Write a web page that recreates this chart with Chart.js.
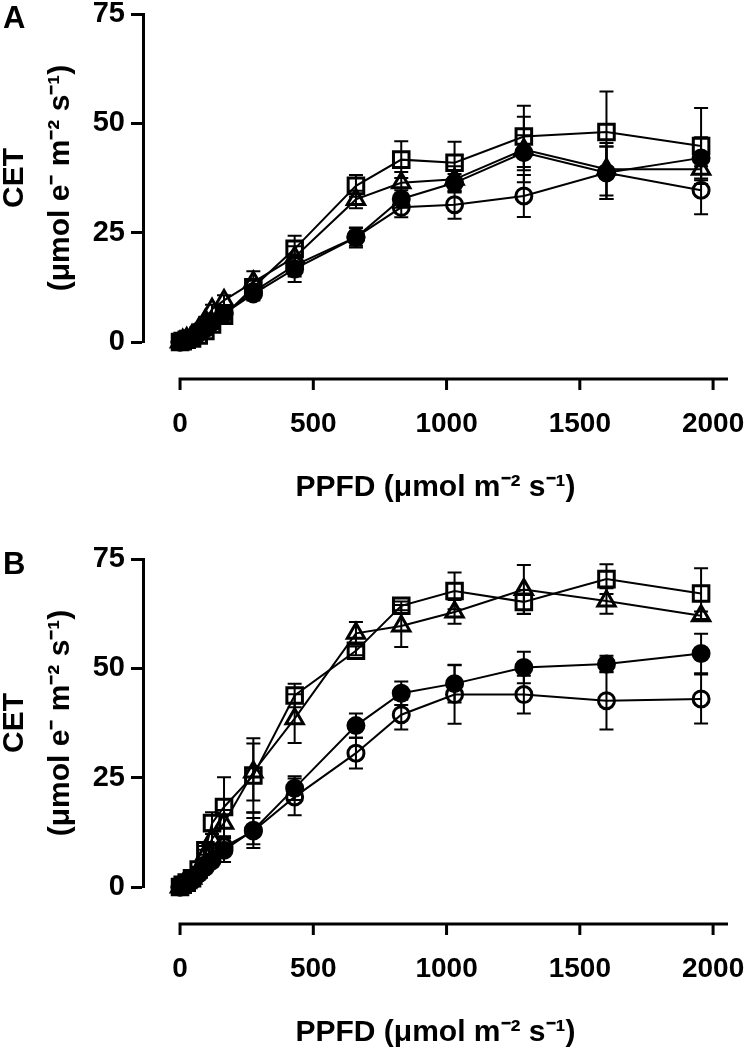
<!DOCTYPE html>
<html>
<head>
<meta charset="utf-8">
<script src="https://cdn.jsdelivr.net/npm/chart.js@4.4.1/dist/chart.umd.min.js"></script>
<style>
  body { margin: 0; background: #fff; }
  #page { position: relative; width: 749px; height: 1053px; overflow: hidden; }
  canvas { position: absolute; left: 0; }
  .panel { position: absolute; left: 3px; font: bold 31px "Liberation Sans", Arial, sans-serif; line-height: 31px; color: #000; }
</style>
</head>
<body>
<div id="page">
  <canvas id="chartA" width="749" height="508" style="top:0px"></canvas>
  <canvas id="chartB" width="749" height="508" style="top:545px"></canvas>
  <div class="panel" style="top:2px">A</div>
  <div class="panel" style="top:548px">B</div>
</div>
<script>
// PPFD levels (x), shared by both panels
var ppfd = [0, 10, 25, 45, 70, 95, 120, 165, 275, 430, 660, 830, 1030, 1290, 1600, 1955];
var xTicks = [0, 500, 1000, 1500, 2000];
var yTicks = [0, 25, 50, 75];

// panel A
var a_filled = [0, 0.3, 0.6, 1.0, 2.5, 3.5, 4.5, 6.5, 11.0, 16.7, 23.9, 32.7, 36.4, 43.3, 38.7, 42.1];
var a_filled_err = [0, 0.2, 0.3, 0.4, 0.6, 0.8, 1.0, 1.2, 1.5, 3.0, 2.3, 2.0, 2.0, 4.0, 6.0, 4.7];
var a_open = [0, 0.3, 0.5, 1.0, 2.0, 3.0, 4.5, 6.5, 11.5, 17.5, 24.0, 30.8, 31.4, 33.4, 38.7, 34.7];
var a_open_err = [0, 0.2, 0.3, 0.4, 0.6, 0.8, 1.0, 1.2, 1.5, 2.5, 2.0, 2.3, 3.2, 4.8, 6.0, 5.5];
var a_square = [0, 0.2, 0.5, 0.8, 1.5, 2.5, 4.0, 6.0, 12.5, 21.3, 35.7, 41.7, 41.0, 47.0, 48.0, 44.8];
var a_square_err = [0, 0.2, 0.3, 0.4, 0.6, 0.8, 1.0, 1.5, 1.5, 3.0, 2.5, 4.2, 4.8, 7.0, 9.3, 8.7];
var a_triangle = [0, 0.4, 0.8, 1.5, 3.0, 5.0, 7.5, 9.5, 13.7, 19.4, 32.6, 36.4, 37.2, 44.0, 39.5, 39.5];
var a_triangle_err = [0, 0.2, 0.3, 0.4, 0.6, 0.8, 1.0, 1.2, 2.5, 2.5, 2.0, 2.5, 3.0, 7.5, 6.0, 2.5];

// panel B
var b_filled = [0, 0.4, 0.8, 1.5, 3.0, 4.5, 6.0, 8.4, 13.0, 22.6, 36.9, 44.3, 46.5, 50.2, 51.0, 53.4];
var b_filled_err = [0, 0.2, 0.3, 0.4, 0.5, 0.7, 1.0, 2.7, 4.1, 2.7, 2.8, 2.7, 4.3, 3.6, 1.9, 4.5];
var b_open = [0, 0.4, 0.8, 1.5, 3.0, 5.0, 8.0, 9.2, 12.8, 20.6, 30.6, 39.4, 44.0, 44.0, 42.6, 43.0];
var b_open_err = [0, 0.2, 0.3, 0.4, 0.5, 0.7, 1.0, 2.0, 3.0, 4.2, 3.5, 3.4, 6.7, 4.3, 6.6, 5.6];
var b_square = [0, 0.5, 1.0, 2.0, 4.0, 8.4, 14.6, 18.3, 25.5, 43.8, 54.0, 64.3, 67.7, 65.2, 70.4, 67.1];
var b_square_err = [0, 0.2, 0.3, 0.4, 0.6, 1.0, 2.5, 6.8, 8.5, 2.7, 1.0, 1.0, 4.2, 2.7, 3.4, 5.8];
var b_triangle = [0, 0.5, 1.0, 2.0, 4.0, 7.5, 11.0, 14.6, 26.3, 38.5, 58.0, 59.7, 62.9, 68.0, 65.4, 62.0];
var b_triangle_err = [0, 0.2, 0.3, 0.4, 0.6, 1.0, 2.0, 3.0, 6.5, 5.6, 2.6, 4.8, 2.7, 5.6, 2.9, 1.0];

var FONT = '"Liberation Sans", Arial, sans-serif';

function series(label, vals, errs, style, radius, filled) {
  return {
    label: label,
    data: ppfd.map(function(x, i) { return {x: x, y: vals[i]}; }),
    errors: errs,
    pointStyle: style,
    pointRadius: radius,
    pointBorderWidth: 3,
    pointBorderColor: '#000',
    pointBackgroundColor: filled ? '#000' : 'rgba(0,0,0,0)',
    borderColor: '#000',
    borderWidth: 2,
    showLine: true,
    tension: 0,
    clip: false
  };
}

// vertical error bars with caps, drawn behind the markers
var errorBars = {
  id: 'errorBars',
  beforeDatasetsDraw: function(chart) {
    var ctx = chart.ctx;
    var xs = chart.scales.x, ys = chart.scales.y;
    ctx.save();
    ctx.strokeStyle = '#000';
    ctx.lineWidth = 2;
    chart.data.datasets.forEach(function(ds) {
      ds.data.forEach(function(p, i) {
        var e = ds.errors[i];
        if (!e) return;
        var px = xs.getPixelForValue(p.x);
        var top = ys.getPixelForValue(p.y + e);
        var bot = ys.getPixelForValue(p.y - e);
        ctx.beginPath();
        ctx.moveTo(px, top); ctx.lineTo(px, bot);
        ctx.moveTo(px - 7, top); ctx.lineTo(px + 7, top);
        ctx.moveTo(px - 7, bot); ctx.lineTo(px + 7, bot);
        ctx.stroke();
      });
    });
    ctx.restore();
  }
};

// detached x axis line, set below the y = 0 level
var offsetXAxis = {
  id: 'offsetXAxis',
  afterDraw: function(chart) {
    var ctx = chart.ctx;
    var xs = chart.scales.x;
    var yLine = chart.chartArea.bottom + 37;
    ctx.save();
    ctx.strokeStyle = '#000';
    ctx.lineWidth = 3;
    ctx.beginPath();
    ctx.moveTo(xs.getPixelForValue(0) - 1.5, yLine);
    ctx.lineTo(chart.chartArea.right, yLine);
    xTicks.forEach(function(v) {
      var px = xs.getPixelForValue(v);
      ctx.moveTo(px, yLine);
      ctx.lineTo(px, yLine + 11);
    });
    ctx.stroke();
    ctx.restore();
  }
};

function makeChart(id, datasets) {
  return new Chart(document.getElementById(id), {
    type: 'scatter',
    data: { datasets: datasets },
    plugins: [errorBars, offsetXAxis],
    options: {
      responsive: false,
      animation: false,
      events: [],
      layout: { padding: { top: 12, right: 21, left: 0, bottom: 0 } },
      plugins: { legend: { display: false }, tooltip: { enabled: false } },
      scales: {
        x: {
          type: 'linear',
          min: -139,
          max: 2056,
          afterBuildTicks: function(s) { s.ticks = xTicks.map(function(v) { return {value: v}; }); },
          afterFit: function(s) { s.height = 166; s.paddingLeft = 0; s.paddingRight = 0; },
          grid: { display: false, drawTicks: false, tickLength: 0 },
          border: { display: false },
          ticks: {
            color: '#000', padding: 65, maxRotation: 0,
            callback: function(v) { return String(v); },
            font: { family: FONT, size: 28, weight: 'bold' }
          },
          title: {
            display: true,
            text: 'PPFD (\u03bcmol m\u207b\u00b2 s\u207b\u00b9)',
            color: '#000',
            padding: { bottom: 2, top: 0 },
            font: { family: FONT, size: 30, weight: 'bold' }
          }
        },
        y: {
          type: 'linear',
          min: 0,
          max: 75,
          afterBuildTicks: function(s) { s.ticks = yTicks.map(function(v) { return {value: v}; }); },
          afterFit: function(s) { s.width = 143; s.paddingTop = 0; s.paddingBottom = 0; },
          grid: { display: true, drawOnChartArea: false, drawTicks: true, tickLength: 12, tickWidth: 3, color: '#000' },
          border: { display: true, width: 3, color: '#000' },
          ticks: {
            color: '#000', padding: 6,
            callback: function(v) { return String(v); },
            font: { family: FONT, size: 29, weight: 'bold' }
          },
          title: {
            display: true,
            text: ['CET', '(\u03bcmol e\u207b m\u207b\u00b2 s\u207b\u00b9)'],
            color: '#000',
            padding: { top: -8, bottom: 0 },
            font: { family: FONT, size: 30, weight: 'bold', lineHeight: '46px' }
          }
        }
      }
    }
  });
}

makeChart('chartA', [
  series('filled circle', a_filled, a_filled_err, 'circle', 8, true),
  series('open circle', a_open, a_open_err, 'circle', 8, false),
  series('open square', a_square, a_square_err, 'rect', 11, false),
  series('open triangle', a_triangle, a_triangle_err, 'triangle', 10, false)
]);

makeChart('chartB', [
  series('filled circle', b_filled, b_filled_err, 'circle', 8, true),
  series('open circle', b_open, b_open_err, 'circle', 8, false),
  series('open square', b_square, b_square_err, 'rect', 11, false),
  series('open triangle', b_triangle, b_triangle_err, 'triangle', 10, false)
]);
</script>
</body>
</html>
